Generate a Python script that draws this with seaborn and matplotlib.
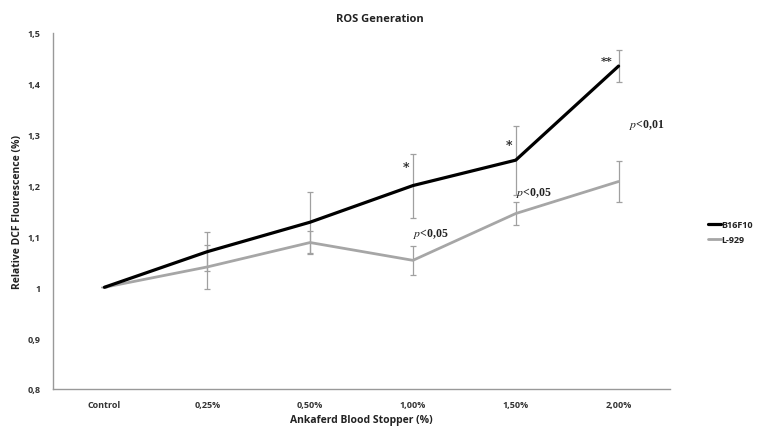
import matplotlib
matplotlib.use("Agg")
import matplotlib.pyplot as plt
import seaborn as sns
import pandas as pd
import numpy as np

categories = ["Control", "0,25%", "0,50%", "1,00%", "1,50%", "2,00%"]
b16_values = [1.0, 1.07, 1.128, 1.2, 1.25, 1.435]
b16_err = [0.0, 0.038, 0.06, 0.063, 0.068, 0.032]
l929_values = [1.0, 1.04, 1.088, 1.053, 1.145, 1.208]
l929_err = [0.0, 0.043, 0.022, 0.029, 0.023, 0.04]
yticks = [0.8, 0.9, 1.0, 1.1, 1.2, 1.3, 1.4, 1.5]
ytick_labels = ["0,8", "0,9", "1", "1,1", "1,2", "1,3", "1,4", "1,5"]

sns.set_theme(style="white")
plt.rcParams['font.family'] = ['Open Sans', 'DejaVu Sans']
plt.rcParams['mathtext.fontset'] = 'stix'

df = pd.DataFrame({
    "cat": categories * 2,
    "x": list(range(len(categories))) * 2,
    "value": b16_values + l929_values,
    "err": b16_err + l929_err,
    "series": ["B16F10"] * len(categories) + ["L-929"] * len(categories),
})

fig = plt.figure(figsize=(7.58, 4.27), dpi=100)
ax = fig.add_axes([53/758, 1 - 390/427, (670 - 53)/758, (390 - 34)/427])

palette = {"B16F10": "#000000", "L-929": "#a6a6a6"}
widths = {"B16F10": 2.3, "L-929": 2.0}

for name, sub in df.groupby("series"):
    ax.errorbar(sub["x"], sub["value"], yerr=sub["err"], fmt="none",
                ecolor="#a0a0a0", elinewidth=0.9, capsize=2.5, capthick=0.9, zorder=1)

for name in ["L-929", "B16F10"]:
    sub = df[df["series"] == name]
    sns.lineplot(data=sub, x="x", y="value", color=palette[name], linewidth=widths[name],
                 ax=ax, label=name, legend=False, zorder=3 if name == "B16F10" else 2)

ax.set_xlim(-0.5, 5.5)
ax.set_ylim(0.8, 1.5)
ax.set_xticks(range(len(categories)))
ax.set_xticklabels(categories, fontsize=6.5, fontweight="bold", color="#333333")
ax.set_yticks(yticks)
ax.set_yticklabels(ytick_labels, fontsize=6.5, fontweight="bold", color="#333333")
ax.tick_params(axis="x", length=0, pad=8)
ax.tick_params(axis="y", length=0, pad=9)
for s in ["top", "right"]:
    ax.spines[s].set_visible(False)
for s in ["left", "bottom"]:
    ax.spines[s].set_color("#999999")
    ax.spines[s].set_linewidth(1.0)

ax.set_xlabel("Ankaferd Blood Stopper (%)", fontsize=7.5, fontweight="bold", color="#222222")
ax.set_ylabel("Relative DCF Flourescence (%)", fontsize=7.5, fontweight="bold", color="#222222")
# place axis labels in figure pixel positions
ax.xaxis.set_label_coords((361 - 53) / (670 - 53), -(421 - 390) / (390 - 34))
ax.yaxis.set_label_coords(-(53 - 18) / (670 - 53), 0.5)
ax.xaxis.label.set_va("center")
ax.yaxis.label.set_va("center")
fig.text(380/758, 1 - 19/427, "ROS Generation", ha="center", va="center",
         fontsize=8, fontweight="bold", color="#222222")

# significance annotations
ax.text(2.93, 1.235, "*", ha="center", va="center", fontsize=9, fontfamily="DejaVu Serif", fontweight="bold", color="#222222")
ax.text(3.93, 1.278, "*", ha="center", va="center", fontsize=9, fontfamily="DejaVu Serif", fontweight="bold", color="#222222")
ax.text(4.88, 1.435, "**", ha="center", va="bottom", fontsize=8, fontfamily="DejaVu Serif", fontweight="bold", color="#222222")
serif = ["Liberation Serif", "DejaVu Serif"]
ax.text(3.0, 1.106, r"$\mathit{p}$<0,05", ha="left", va="center", fontsize=8.5,
        fontfamily=serif, fontweight="bold", color="#222222")
ax.text(4.0, 1.187, r"$\mathit{p}$<0,05", ha="left", va="center", fontsize=8.5,
        fontfamily=serif, fontweight="bold", color="#222222")
ax.text(5.1, 1.322, r"$\mathit{p}$<0,01", ha="left", va="center", fontsize=8.5,
        fontfamily=serif, fontweight="bold", color="#222222")

handles, labels = ax.get_legend_handles_labels()
order = [labels.index("B16F10"), labels.index("L-929")]
leg = fig.legend([handles[i] for i in order], [labels[i] for i in order],
                 loc="center left", bbox_to_anchor=(708/758, 1 - 233/427),
                 frameon=False, fontsize=6.5, handlelength=1.4, handletextpad=0.1,
                 labelspacing=0.6, borderpad=0, borderaxespad=0)
for t in leg.get_texts():
    t.set_fontweight("bold")
    t.set_color("#222222")

fig.savefig("out.png", dpi=100)
